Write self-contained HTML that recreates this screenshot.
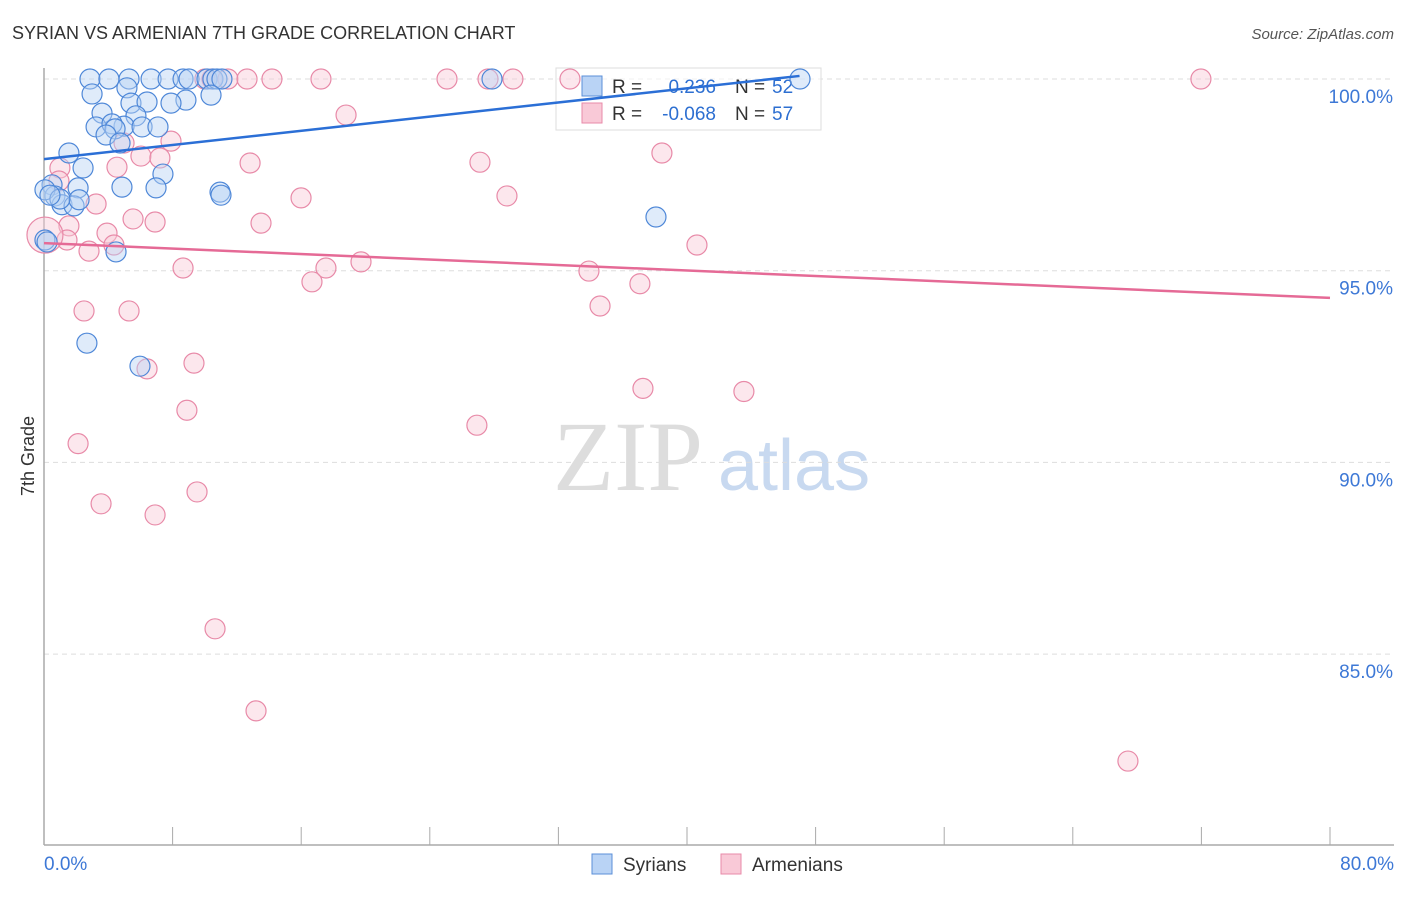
<!DOCTYPE html>
<html><head><meta charset="utf-8"><style>
body{margin:0;background:#fff;font-family:"Liberation Sans",sans-serif}
</style></head><body>
<svg width="1406" height="892" font-family="Liberation Sans, sans-serif">
<text x="12" y="39" font-size="18" fill="#333">SYRIAN VS ARMENIAN 7TH GRADE CORRELATION CHART</text>
<text x="1394" y="39" font-size="15" fill="#555" font-style="italic" text-anchor="end">Source: ZipAtlas.com</text>
<g><text x="553" y="490" font-size="100" fill="#ddd" style="font-family:'Liberation Serif',serif">ZIP</text><text x="718" y="490" font-size="72" fill="#c8d9f0">atlas</text></g>
<g id="grid"></g><g id="axes"></g>
<g>
<rect x="556" y="68" width="265" height="62" fill="#fff" fill-opacity="0.6" stroke="#ddd"/>
<rect x="582" y="76" width="20" height="20" fill="#b9d3f5" stroke="#5b8fd8"/>
<rect x="582" y="103" width="20" height="20" fill="#f9c9d7" stroke="#e88aa8"/>
<text x="612" y="93" font-size="19" fill="#333">R =</text><text x="716" y="93" font-size="19" fill="#2d6fd1" text-anchor="end">0.236</text><text x="735" y="93" font-size="19" fill="#333">N =</text><text x="772" y="93" font-size="19" fill="#2d6fd1">52</text>
<text x="612" y="120" font-size="19" fill="#333">R =</text><text x="716" y="120" font-size="19" fill="#2d6fd1" text-anchor="end">-0.068</text><text x="735" y="120" font-size="19" fill="#333">N =</text><text x="772" y="120" font-size="19" fill="#2d6fd1">57</text>
</g>
<g id="marks"></g>
<text transform="translate(34,456) rotate(-90)" font-size="18" fill="#333" text-anchor="middle">7th Grade</text>
<g>
<rect x="592" y="854" width="20" height="20" fill="#b9d3f5" stroke="#5b8fd8"/>
<text x="623" y="871" font-size="19" fill="#333">Syrians</text>
<rect x="721" y="854" width="20" height="20" fill="#f9c9d7" stroke="#e88aa8"/>
<text x="752" y="871" font-size="19" fill="#333">Armenians</text>
</g>
</svg>
<script>
const xTickLabels=["0.0%","80.0%"];
const yTicks=[100,95,90,85];
const syrX=[2.86,4.04,5.29,6.66,7.72,8.65,9.02,10.14,10.51,10.76,11.07,27.87,47.03,2.99,5.16,10.39,8.83,5.41,6.41,7.90,3.61,5.72,4.98,3.24,4.23,4.42,6.10,7.09,3.86,4.73,1.55,2.43,7.40,4.85,6.97,10.95,2.12,11.01,0.50,0.68,1.12,1.87,2.18,0.06,38.07,4.48,2.67,5.97,0.06,0.19,0.99,0.37];
const syrY=[100,100,100,100,100,100,100,100,100,100,100,100,100,99.61,99.77,99.58,99.45,99.37,99.40,99.37,99.11,99.04,98.77,98.75,98.83,98.70,98.75,98.75,98.54,98.33,98.07,97.68,97.52,97.18,97.16,97.05,97.16,96.97,97.24,96.95,96.72,96.69,96.85,97.11,96.40,95.49,93.11,92.51,95.80,95.75,96.87,96.97];
const armX=[10.01,10.45,11.44,12.63,14.18,17.23,25.07,27.62,29.17,32.72,71.97,18.79,7.90,4.98,6.03,7.21,0.99,4.54,12.82,27.12,38.44,0.93,15.99,28.80,3.24,5.54,6.91,13.50,1.55,1.43,3.92,2.80,4.35,40.62,19.72,8.65,17.54,33.90,16.67,37.07,34.59,2.49,5.29,9.33,6.41,37.26,43.54,8.89,26.93,2.12,9.52,3.55,6.91,10.64,13.19,67.43,0.06];
const armY=[100,100,100,100,100,100,100,100,100,100,100,99.06,98.38,98.33,97.99,97.94,97.68,97.70,97.81,97.83,98.07,97.34,96.90,96.95,96.74,96.35,96.27,96.24,96.17,95.80,95.98,95.51,95.67,95.67,95.23,95.07,95.07,94.99,94.71,94.66,94.08,93.95,93.95,92.59,92.44,91.93,91.85,91.36,90.97,90.49,89.23,88.92,88.63,85.66,83.52,82.21,95.93];
const syrTrend=[97.91,100.08];
const armTrend=[95.72,94.29];
const X0=44,X1=1330,Ytop=79,Ybot=845;
function sx(v){return X0+(v/80)*(X1-X0);}
function sy(v){return Ytop+(100-v)/5*191.7;}
const NS="http://www.w3.org/2000/svg";
function mk(t,a,p){const e=document.createElementNS(NS,t);for(const k in a)e.setAttribute(k,a[k]);p.appendChild(e);return e;}
const grid=document.getElementById('grid'),axes=document.getElementById('axes'),marks=document.getElementById('marks');
yTicks.forEach(v=>{
 const l=mk('line',{x1:X0,x2:1394,y1:sy(v),y2:sy(v),stroke:'#ddd','stroke-dasharray':'5,4'},grid);
 
 
 const t=mk('text',{x:1393,y:sy(v)+24,'font-size':19,fill:'#3d78d6','text-anchor':'end'},grid);
 t.textContent=v.toFixed(1)+'%';
 
 
});
const ya=mk('line',{x1:X0,x2:X0,y1:68,y2:Ybot,stroke:'#aaa','stroke-width':1.5},axes);


const xa=mk('line',{x1:X0,x2:1394,y1:Ybot,y2:Ybot,stroke:'#aaa','stroke-width':1.5},axes);


for(let i=0;i<=10;i++){const tk=mk('line',{x1:sx(i*8),x2:sx(i*8),y1:827,y2:Ybot,stroke:'#aaa'},axes);
 
 }
[[0,'start',44],[80,'end',1394]].forEach((d,i)=>{const t=mk('text',{x:d[2],y:870,'font-size':19,fill:'#3d78d6','text-anchor':d[1]},axes);t.textContent=xTickLabels[i];
 
 });
function pts(xs,ys,fill,stroke,name){xs.forEach((x,i)=>{const c=mk('circle',{cx:sx(x),cy:sy(ys[i]),r:(i===xs.length-1&&name==='armenian')?18:10,fill:fill,'fill-opacity':0.45,stroke:stroke,'stroke-width':1.2},marks);
 
 });}
pts(armX,armY,'#f9c9d7','#e88aa8','armenian');
pts(syrX,syrY,'#b9d3f5','#4f88d8','syrian');
const t1=mk('line',{x1:sx(0),y1:sy(syrTrend[0]),x2:sx(47),y2:sy(syrTrend[1]),stroke:'#2b6fd6','stroke-width':2.5},marks);


const t2=mk('line',{x1:sx(0),y1:sy(armTrend[0]),x2:sx(80),y2:sy(armTrend[1]),stroke:'#e56a96','stroke-width':2.5},marks);


</script>
</body></html>
